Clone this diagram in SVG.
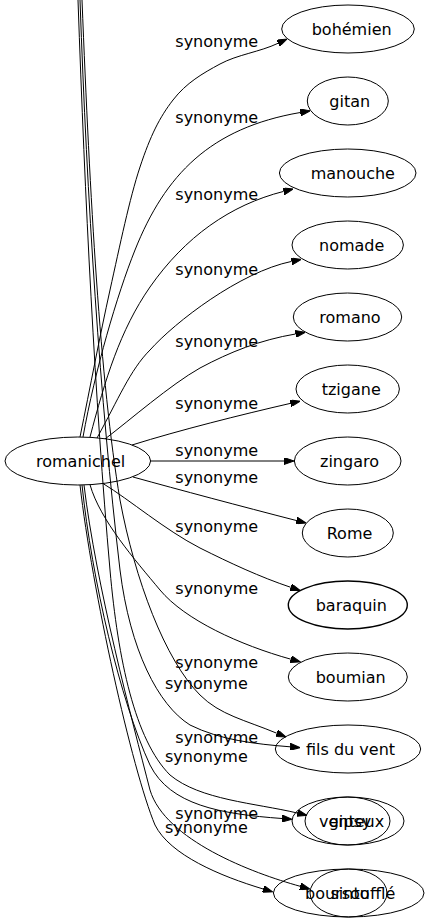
<svg xmlns="http://www.w3.org/2000/svg" width="426" height="923" viewBox="0 0 426 923">
<defs>
<marker id="ah" markerWidth="10" markerHeight="7" refX="0" refY="3.5" orient="auto" markerUnits="userSpaceOnUse"><path d="M0,0 L10,3.5 L0,7 z" fill="#000" stroke="#000" stroke-width="1"/></marker>
</defs>
<style>
.node ellipse{fill:none;stroke:#000;stroke-width:1}
text{font-family:"DejaVu Sans",sans-serif;font-size:16px;fill:#000}
#edges path{fill:none;stroke:#000;stroke-width:1;marker-end:url(#ah)}
</style>
<rect x="0" y="0" width="426" height="923" fill="#fff"/>
<g id="edges">
<path d="M80,437 C90,388 100,335 110,290 C120,245 129.5,198.7 140,167 C150.5,135.3 159.7,117.2 173,100 C186.3,82.8 202.5,73.45 220,64 C237.5,54.55 260,51.9 278,43.3"/>
<path d="M83,437 C95,370 117,295 135,250 C165,175 210,128 300.3,112.5"/>
<path d="M90,437 C105,380 120,330 150,287 C185,237 230,205 283.6,191.4"/>
<path d="M97,438 C118,400 130,370 150,350 C175,322 240,272 291.6,261.4"/>
<path d="M105,439 C130,420 170,385 200,368 C230,352 260,340 295.5,334"/>
<path d="M132,445 C180,430 240,415 290.3,403.4"/>
<path d="M151,461 L284,461"/>
<path d="M133,477 C180,490 240,506 296.3,520.5"/>
<path d="M103,483.5 C130,500 165,530 200,548 C230,563 260,577 290.7,587.3"/>
<path d="M90,484.7 C100,520 135,560 160,590 C185,620 240,645 290.8,659.2"/>
<path d="M80,485 C92,590 132,770 155,825 C170,855 220,876 263.2,889"/>
<path d="M82,485 C92,580 120,700 150,765 C170,805 220,814 282,818.5"/>
<path d="M84,485 C96,585 132,720 150,790 C165,840 252,873 300.2,886.3"/>
<path d="M78,0 C85,200 95,400 110,570 C118,660 135,740 170,775 C200,800 255,803 297.2,813"/>
<path d="M80,0 C87,200 100,400 120,570 C130,650 158,705 190,725 C220,740 255,744 290.1,746.8"/>
<path d="M82,0 C90,200 100,380 120,500 C135,580 165,660 200,695 C220,715 245,720 276.7,733.2"/>
</g>
<g id="edge-labels">
<text x="175.3" y="46.7">synonyme</text>
<text x="175.3" y="123.3">synonyme</text>
<text x="175.3" y="200">synonyme</text>
<text x="175.3" y="275">synonyme</text>
<text x="175.3" y="346.7">synonyme</text>
<text x="175.3" y="409">synonyme</text>
<text x="175.3" y="456">synonyme</text>
<text x="175.3" y="483">synonyme</text>
<text x="175.3" y="531.7">synonyme</text>
<text x="175.3" y="594.3">synonyme</text>
<text x="175.3" y="667.7">synonyme</text>
<text x="165" y="689">synonyme</text>
<text x="175.3" y="742.7">synonyme</text>
<text x="165" y="762.3">synonyme</text>
<text x="175.3" y="819.3">synonyme</text>
<text x="165" y="833.3">synonyme</text>
</g>
<g id="romanichel" class="node"><ellipse cx="77.8" cy="461" rx="72.8" ry="24"/><text x="36" y="466.7">romanichel</text></g>
<g id="bohemien" class="node"><ellipse cx="348" cy="29" rx="66.3" ry="24"/><text x="311.7" y="34.7">bohémien</text></g>
<g id="gitan" class="node"><ellipse cx="347.8" cy="101" rx="40.5" ry="24"/><text x="329.3" y="106.7">gitan</text></g>
<g id="manouche" class="node"><ellipse cx="347.7" cy="173" rx="68.3" ry="24"/><text x="310.7" y="178.7">manouche</text></g>
<g id="nomade" class="node"><ellipse cx="347.7" cy="245" rx="55.7" ry="24"/><text x="319" y="250.7">nomade</text></g>
<g id="romano" class="node"><ellipse cx="347.5" cy="317" rx="54.2" ry="24"/><text x="319.3" y="322.7">romano</text></g>
<g id="tzigane" class="node"><ellipse cx="347.7" cy="389" rx="51.7" ry="24"/><text x="321.7" y="394.7">tzigane</text></g>
<g id="zingaro" class="node"><ellipse cx="347.7" cy="461" rx="53.3" ry="24"/><text x="320" y="466.7">zingaro</text></g>
<g id="Rome" class="node"><ellipse cx="347.8" cy="533" rx="45.5" ry="24"/><text x="326.7" y="538.7">Rome</text></g>
<g id="baraquin" class="node"><ellipse cx="347.8" cy="605" rx="59.5" ry="24" style="stroke-width:1.4"/><text x="315.7" y="610.7">baraquin</text></g>
<g id="boumian" class="node"><ellipse cx="347.8" cy="677" rx="59.5" ry="24"/><text x="315.7" y="682.7">boumian</text></g>
<g id="fils-du-vent" class="node"><ellipse cx="348" cy="749" rx="72.7" ry="24"/><text x="306" y="754.7">fils du vent</text></g>
<g id="venteux" class="node"><ellipse cx="348" cy="821" rx="56" ry="24"/><text x="319" y="826.7">venteux</text></g>
<g id="gipsy" class="node"><ellipse cx="347.5" cy="821" rx="42.5" ry="24"/><text x="328.7" y="826.7">gipsy</text></g>
<g id="boursouffle" class="node"><ellipse cx="348.7" cy="893" rx="75.3" ry="24"/><text x="305" y="898.7">boursoufflé</text></g>
<g id="sinto" class="node"><ellipse cx="348.5" cy="893" rx="38.5" ry="24"/><text x="330.5" y="898.7">sinto</text></g>
</svg>
